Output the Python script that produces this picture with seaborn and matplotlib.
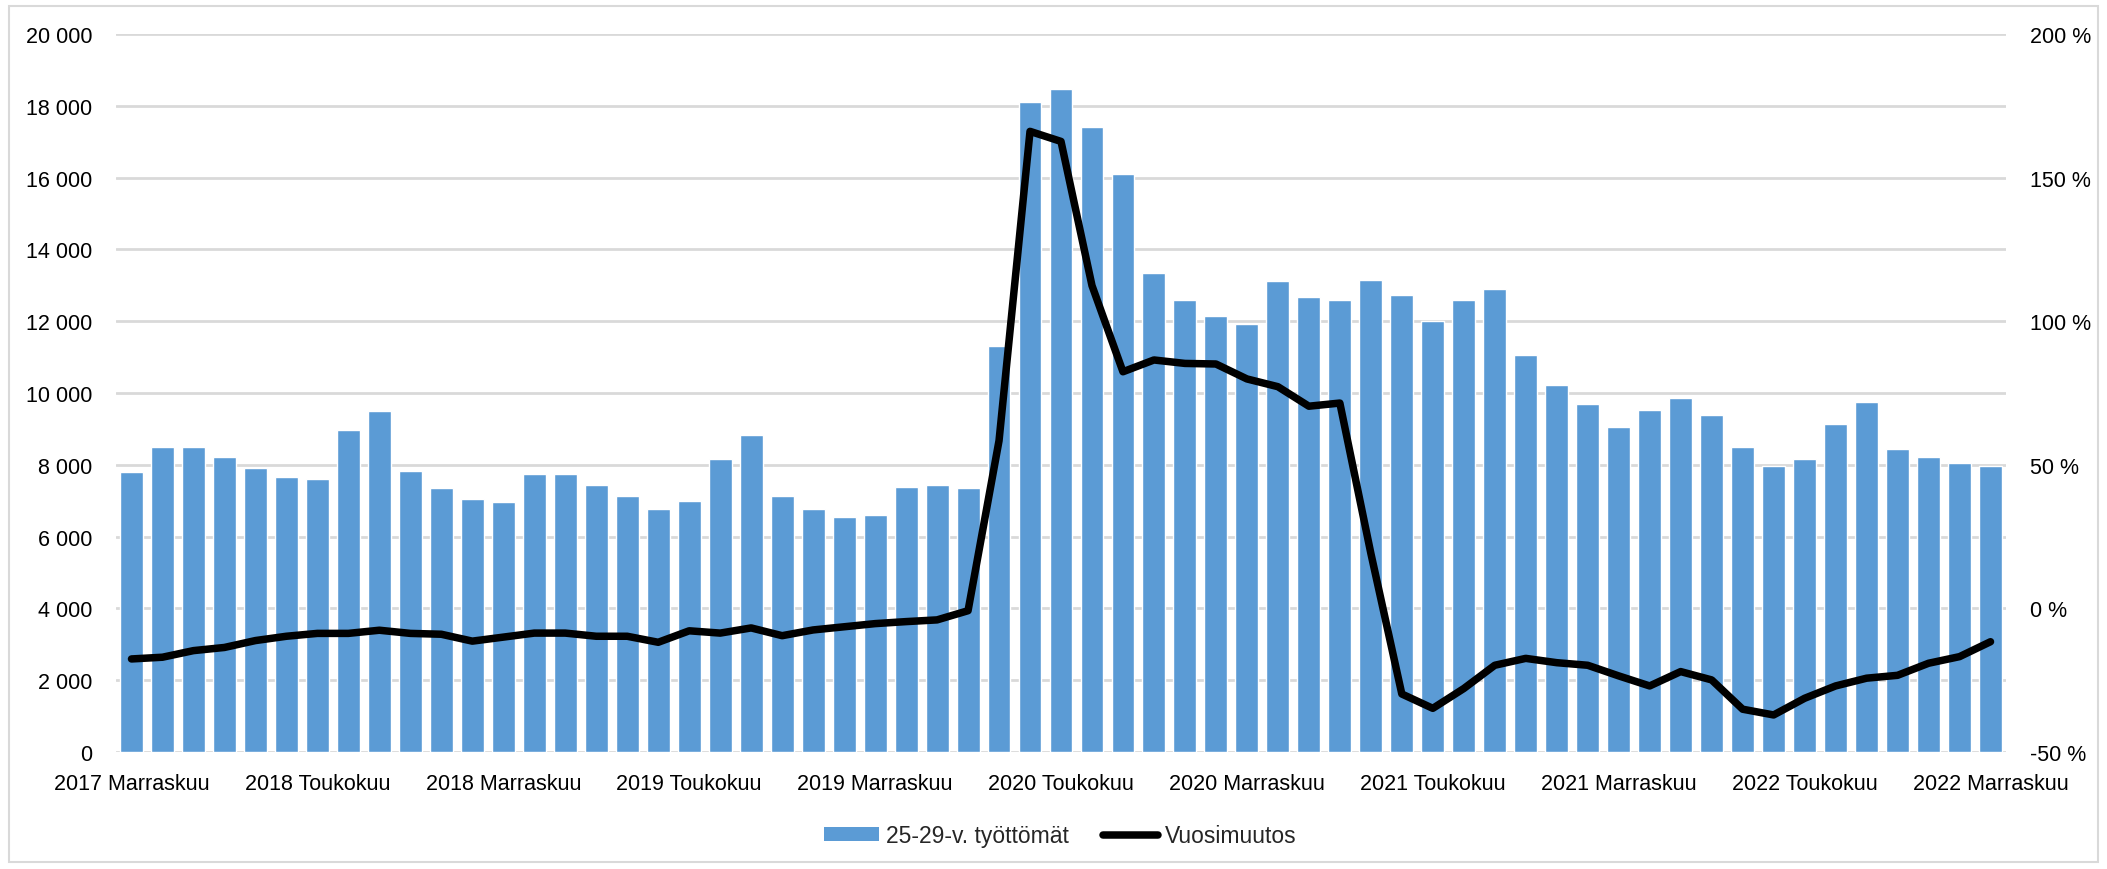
import matplotlib
matplotlib.use("Agg")
import matplotlib.pyplot as plt
import seaborn as sns
import pandas as pd
import numpy as np
from matplotlib.patches import Patch, Rectangle
from matplotlib.lines import Line2D
from matplotlib.ticker import FuncFormatter

# ---- data ----
month_names = ["Tammikuu", "Helmikuu", "Maaliskuu", "Huhtikuu", "Toukokuu", "Kesäkuu",
               "Heinäkuu", "Elokuu", "Syyskuu", "Lokakuu", "Marraskuu", "Joulukuu"]
months = [f"{y} {month_names[m]}" for y in range(2017, 2023) for m in range(12)
          if (y, m) >= (2017, 10) and (y, m) <= (2022, 10)]

unemployed = [7800, 8500, 8500, 8230, 7920, 7660, 7610, 8960, 9510, 7830,
              7350, 7040, 6950, 7750, 7750, 7430, 7130, 6770, 7000, 8150,
              8830, 7130, 6770, 6545, 6590, 7390, 7430, 7350, 11300, 18100,
              18460, 17400, 16100, 13340, 12590, 12140, 11920, 13120, 12680, 12590,
              13160, 12720, 12010, 12590, 12900, 11070, 10220, 9690, 9060, 9515,
              9870, 9390, 8500, 7980, 8150, 9140, 9740, 8450, 8230, 8050, 7970]

yoy_change = [-17.6, -17.0, -14.7, -13.6, -11.2, -9.7, -8.7, -8.7, -7.6, -8.7,
              -9.0, -11.4, -10.0, -8.6, -8.6, -9.7, -9.7, -11.8, -7.8, -8.6,
              -6.8, -9.5, -7.5, -6.4, -5.3, -4.6, -4.0, -0.8, 58.4, 166.1,
              162.6, 112.4, 82.4, 86.5, 85.3, 85.1, 79.9, 77.2, 70.4, 71.5,
              19.2, -29.8, -34.8, -27.9, -19.8, -17.4, -18.9, -19.8, -23.5, -27.0,
              -22.0, -24.9, -35.1, -37.1, -31.3, -27.0, -24.3, -23.3, -19.1, -16.8, -11.6]

bar_label = "25-29-v. työttömät"
line_label = "Vuosimuutos"

df = pd.DataFrame({"kuukausi": months, "tyottomat": unemployed,
                   "muutos": yoy_change, "pos": np.arange(len(months))})

# ---- style ----
sns.set_theme(style="white")
plt.rcParams["font.family"] = ["Liberation Sans", "DejaVu Sans"]
FS = 15.5
LFS = 16.5
BLUE = "#5B9BD5"
GRID = "#D9D9D9"

fig = plt.figure(figsize=(21.07, 8.70), dpi=100)
ax = fig.add_axes([116/2107, 1-753/870, (2006-116)/2107, (753-35)/870])

sns.barplot(data=df, x="kuukausi", y="tyottomat", order=months, color=BLUE,
            saturation=1, width=0.74, ax=ax, zorder=2)
ax.set_xlim(-0.5, len(months)-0.5)
ax.set_ylim(0, 20000)
ax.set_yticks(np.arange(0, 20001, 2000))
ax.yaxis.set_major_formatter(FuncFormatter(lambda v, p: f"{int(v):,}".replace(",", " ")))
ax.grid(axis="y", color=GRID, linewidth=2, zorder=0)
ax.set_axisbelow(True)
for s in ax.spines.values():
    s.set_visible(False)
ax.set_xlabel("")
ax.set_ylabel("")
tick_pos = list(range(0, len(months), 6))
ax.set_xticks(tick_pos)
ax.set_xticklabels([months[i] for i in tick_pos])
ax.tick_params(axis="x", length=0, pad=15, labelsize=FS, colors="black")
ax.tick_params(axis="y", length=0, pad=17, labelsize=FS, colors="black")

ax2 = ax.twinx()
sns.lineplot(data=df, x="pos", y="muutos", color="black", linewidth=5.4, ax=ax2,
             solid_joinstyle="round", solid_capstyle="round", zorder=3)
ax2.set_ylim(-50, 200)
ax2.set_yticks(np.arange(-50, 201, 50))
ax2.yaxis.set_major_formatter(FuncFormatter(lambda v, p: f"{int(v)} %"))
ax2.set_xlim(-0.5, len(months)-0.5)
for s in ax2.spines.values():
    s.set_visible(False)
ax2.set_ylabel("")
ax2.set_xlabel("")
ax2.tick_params(axis="y", length=0, pad=17, labelsize=FS, colors="black")
ax2.grid(False)

handles = [Patch(facecolor=BLUE, edgecolor="none", label=bar_label),
           Line2D([0], [0], color="black", linewidth=5.4, solid_capstyle="round", label=line_label)]
fig.legend(handles=handles, loc="center", bbox_to_anchor=(1060/2107, 1-837/870), ncol=2,
           frameon=False, fontsize=LFS, handlelength=2.4, handleheight=0.55,
           handletextpad=0.3, columnspacing=1.5)

fig.patches.append(Rectangle((9/2107, 7/870), (2098-9)/2107, (863-7)/870,
                             transform=fig.transFigure, fill=False,
                             edgecolor="#D9D9D9", linewidth=1.5))

fig.savefig("out.png", dpi=100)
